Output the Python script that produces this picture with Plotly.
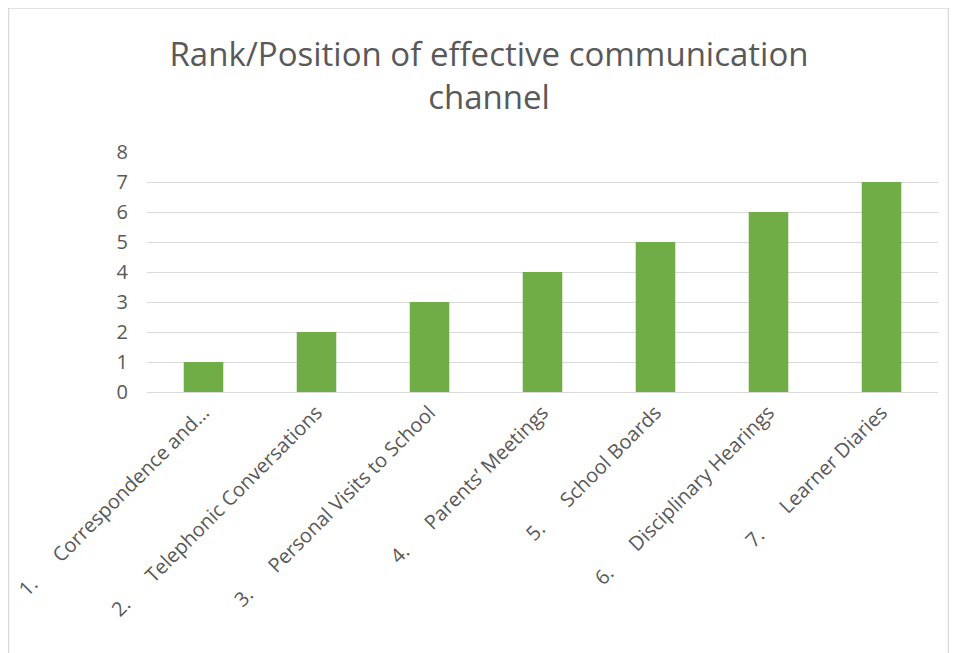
import plotly.graph_objects as go

categories = [
    "1.\u00a0\u00a0\u00a0\u00a0\u00a0\u00a0Correspondence and...",
    "2.\u00a0\u00a0\u00a0\u00a0\u00a0\u00a0Telephonic Conversations",
    "3.\u00a0\u00a0\u00a0\u00a0\u00a0\u00a0Personal Visits to School",
    "4.\u00a0\u00a0\u00a0\u00a0\u00a0\u00a0Parents’ Meetings",
    "5.\u00a0\u00a0\u00a0\u00a0\u00a0\u00a0School Boards",
    "6.\u00a0\u00a0\u00a0\u00a0\u00a0\u00a0Disciplinary Hearings",
    "7.\u00a0\u00a0\u00a0\u00a0\u00a0\u00a0Learner Diaries",
]
ranks = [1, 2, 3, 4, 5, 6, 7]
y_ticks = [0, 1, 2, 3, 4, 5, 6, 7, 8]

# page body has an 8px margin; work in figure pixels (reference px - 8)
OFF = 8
W, H = 957 - OFF, 653 - OFF
L, T = 147 - OFF, 152 - OFF
R = W - (938 - OFF)
B = H - (392 - OFF)

fig = go.Figure()
fig.add_trace(go.Bar(x=categories, y=ranks, marker=dict(color="#70AD47", line=dict(width=0)),
                     width=0.35))

fig.update_layout(
    width=W, height=H,
    margin=dict(l=L, r=R, t=T, b=B, autoexpand=False),
    paper_bgcolor="white", plot_bgcolor="white",
    font=dict(family="Open Sans", color="#595959"),
    title=dict(text="Rank/Position of effective communication<br>channel",
               x=(489 - OFF) / W, xanchor="center",
               y=1 - (66 - OFF) / H, yanchor="middle",
               font=dict(size=33, color="#595959", family="Open Sans")),
    showlegend=False,
    bargap=0.65,
)
fig.update_xaxes(tickangle=-45, tickfont=dict(size=20, color="#595959"),
                 showline=True, linecolor="#D9D9D9", linewidth=1, ticks="",
                 showgrid=False)
fig.update_yaxes(range=[0, 8], tickvals=y_ticks, tickfont=dict(size=20, color="#595959"),
                 showgrid=True, gridcolor="#D9D9D9", gridwidth=1, zeroline=False,
                 showline=False, ticks="", ticklabelstandoff=18)

def px_x(px):
    return (px - OFF - L) / (W - L - R)

def px_y(py):
    return (H - B - (py - OFF)) / (H - T - B)

border = "#D9D9D9"
for x0, y0, x1, y1 in [(8.5, 8, 948.5, 8), (8.5, 8, 8.5, 653), (948.5, 8, 948.5, 653)]:
    fig.add_shape(type="line", xref="paper", yref="paper",
                  x0=px_x(x0), y0=px_y(y0), x1=px_x(x1), y1=px_y(y1),
                  line=dict(color=border, width=1.5))

fig.write_html("out.html")
